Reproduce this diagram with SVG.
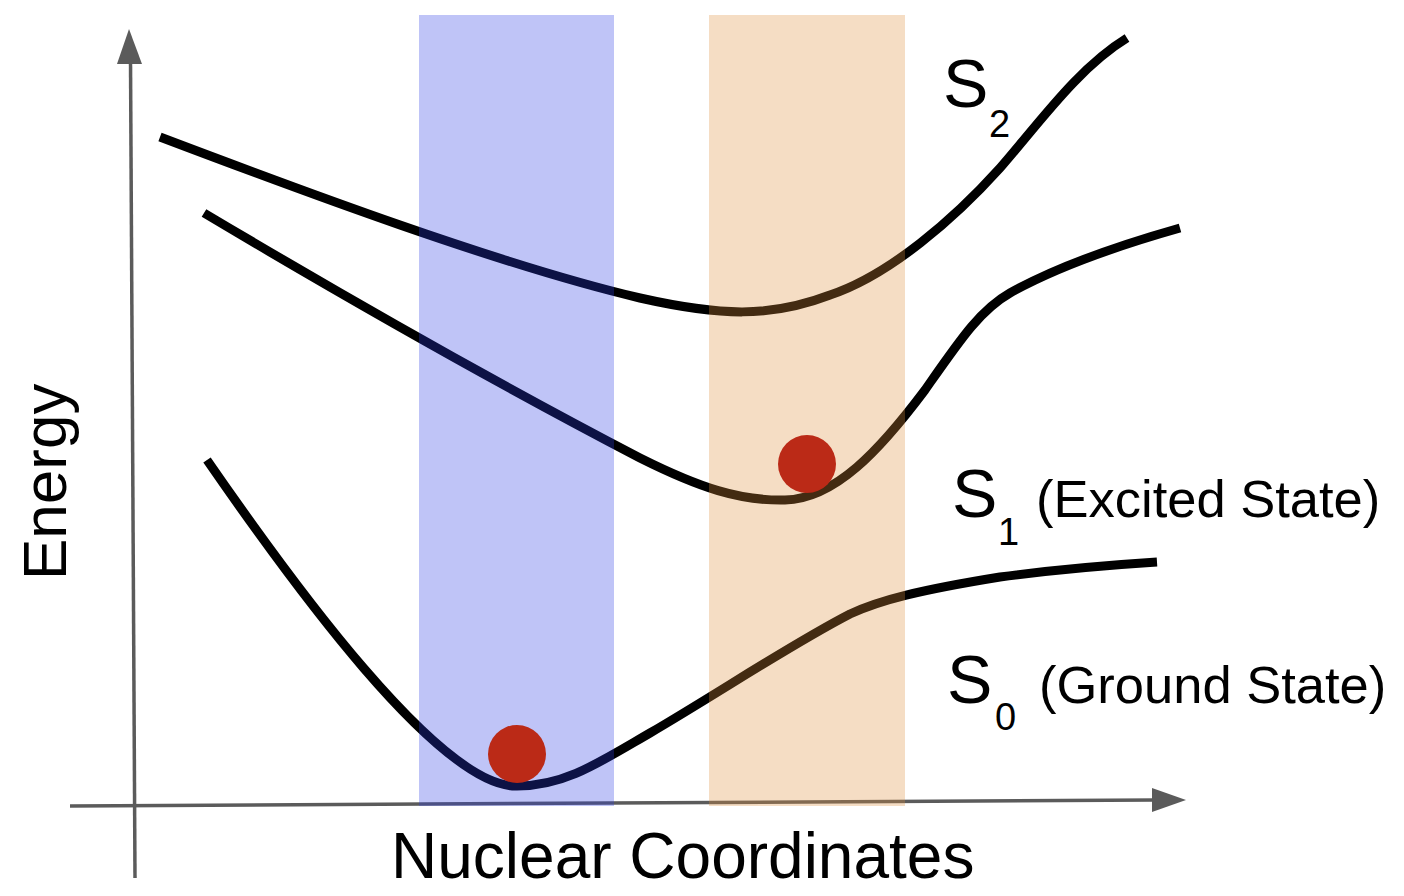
<svg xmlns="http://www.w3.org/2000/svg" width="1404" height="896" viewBox="0 0 1404 896">
<style>
.axis{stroke:#5b5b5b;stroke-width:3.5;fill:none}
.head{fill:#5b5b5b}
.curve{stroke:#000;stroke-width:9;fill:none;stroke-linecap:butt;stroke-linejoin:round}
.band{opacity:0.3}
.ball{fill:#bb2a17}
text{font-family:"Liberation Sans",Arial,Helvetica,sans-serif;fill:#000}
.big{font-size:68px}
.sub{font-size:38px}
.mid{font-size:52.5px}
.ax{font-size:62px}
.axx{font-size:64px}
</style>
<rect width="1404" height="896" fill="#fff"/>
<g id="axes">
  <line class="axis" x1="130.5" y1="60" x2="135" y2="878"/>
  <polygon class="head" points="129,29 117,64 142,64"/>
  <line class="axis" x1="70" y1="806" x2="1155" y2="800"/>
  <polygon class="head" points="1186,800 1152,788 1152,812"/>
</g>
<g id="curves">
  <path id="S2-curve" class="curve" d="M160,137 C300,190 500,265 640,298 C720,316 770,318 830,295 C890,275 955,218 1000,168 C1040,122 1078,68 1127,38"/>
  <path id="S1-curve" class="curve" d="M204,213 C350,300 500,385 640,458 C700,488 740,501 785,500 C835,499 880,450 925,390 C960,340 980,310 1010,293 C1060,265 1120,245 1180,228"/>
  <path id="S0-curve" class="curve" d="M207,460 C290,580 440,788 517,786 C565,786 600,762 650,733 C720,692 790,645 850,614 C880,600 920,590 1000,577 C1060,569 1110,565 1157,562"/>
</g>
<g id="bands">
  <rect id="band-blue" class="band" x="419" y="15" width="195" height="791" fill="#2b3de6"/>
  <rect id="band-orange" class="band" x="709" y="15" width="196" height="791" fill="#de8f3a"/>
</g>
<g id="particles">
  <circle id="ball-S1" class="ball" cx="807" cy="464" r="29"/>
  <circle id="ball-S0" class="ball" cx="517" cy="754" r="29"/>
</g>
<g id="labels">
  <g id="label-S2"><text class="big" x="943" y="107">S</text><text class="sub" x="989" y="137">2</text></g>
  <g id="label-S1"><text class="big" x="952" y="517">S</text><text class="sub" x="998" y="545">1</text><text class="mid" x="1036" y="517">(Excited State)</text></g>
  <g id="label-S0"><text class="big" x="947" y="703">S</text><text class="sub" x="995" y="730">0</text><text class="mid" x="1039" y="703">(Ground State)</text></g>
  <text id="label-x" class="axx" x="391" y="878">Nuclear Coordinates</text>
  <text id="label-y" class="ax" transform="translate(66,580) rotate(-90)">Energy</text>
</g>
</svg>
